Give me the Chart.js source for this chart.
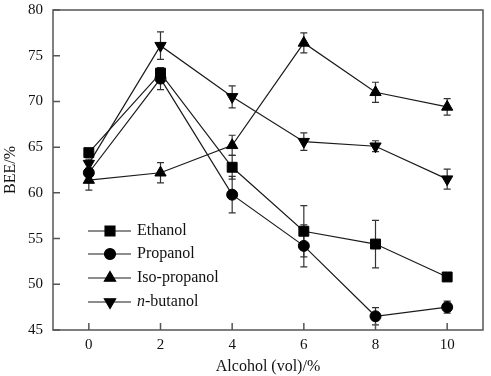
<!DOCTYPE html>
<html>
<head>
<meta charset="utf-8">
<script src="https://cdn.jsdelivr.net/npm/chart.js@4/dist/chart.umd.min.js"></script>
<style>
  html, body { margin: 0; padding: 0; background: #fff; }
  #wrap { width: 491px; height: 376px; }
</style>
</head>
<body>
<div id="wrap"><canvas id="bee-chart"></canvas></div>
<script>
// Values
const alcoholVol = [0, 2, 4, 6, 8, 10];
const xTicks = [0, 2, 4, 6, 8, 10];
const yTicks = [45, 50, 55, 60, 65, 70, 75, 80];

const ethanol = [64.4, 73.1, 62.8, 55.8, 54.4, 50.8];
const ethanolErr = [0.3, 0.5, 1.3, 2.8, 2.6, 0.3];
const propanol = [62.2, 72.5, 59.8, 54.2, 46.5, 47.5];
const propanolErr = [0.4, 1.2, 2.0, 2.3, 0.95, 0.65];
const isoPropanol = [61.4, 62.2, 65.2, 76.4, 71.0, 69.4];
const isoPropanolErr = [1.1, 1.1, 1.1, 1.1, 1.1, 0.9];
const nButanol = [63.2, 76.1, 70.5, 65.6, 65.1, 61.5];
const nButanolErr = [0.5, 1.5, 1.2, 0.95, 0.6, 1.1];

const INK = '#1a1a1a';
const SERIF = "'Liberation Serif', 'DejaVu Serif', serif";

const toPoints = (ys) => alcoholVol.map((x, i) => ({ x, y: ys[i] }));

function makeSeries(label, ys, err, style, radius, rotation) {
  return {
    label,
    data: toPoints(ys),
    errors: err,
    borderColor: INK,
    borderWidth: 1.2,
    backgroundColor: INK,
    pointStyle: style,
    pointRadius: radius,
    pointRotation: rotation || 0,
    pointBackgroundColor: '#000',
    pointBorderColor: '#000',
    pointBorderWidth: 1,
    tension: 0,
    fill: false,
  };
}

// Error bars: vertical whiskers with small caps, drawn under the markers
const errorBars = {
  id: 'errorBars',
  beforeDatasetsDraw(chart) {
    const { ctx, scales: { x, y } } = chart;
    ctx.save();
    ctx.strokeStyle = '#333';
    ctx.lineWidth = 1.2;
    chart.data.datasets.forEach(ds => {
      ds.data.forEach((p, i) => {
        const e = ds.errors[i];
        if (!e) return;
        const px = x.getPixelForValue(p.x);
        const top = y.getPixelForValue(p.y + e);
        const bot = y.getPixelForValue(p.y - e);
        ctx.beginPath();
        ctx.moveTo(px, top); ctx.lineTo(px, bot);
        ctx.moveTo(px - 3.5, top); ctx.lineTo(px + 3.5, top);
        ctx.moveTo(px - 3.5, bot); ctx.lineTo(px + 3.5, bot);
        ctx.stroke();
      });
    });
    ctx.restore();
  }
};

// Box frame and inward tick marks
const frame = {
  id: 'frame',
  afterDraw(chart) {
    const { ctx, chartArea: a, scales: { x, y } } = chart;
    ctx.save();
    ctx.strokeStyle = '#555';
    ctx.lineWidth = 1.5;
    ctx.strokeRect(a.left, a.top, a.right - a.left, a.bottom - a.top);
    ctx.beginPath();
    xTicks.forEach(v => {
      const px = x.getPixelForValue(v);
      ctx.moveTo(px, a.bottom); ctx.lineTo(px, a.bottom - 7);
    });
    yTicks.forEach(v => {
      const py = y.getPixelForValue(v);
      ctx.moveTo(a.left, py); ctx.lineTo(a.left + 7, py);
    });
    ctx.stroke();
    ctx.restore();
  }
};

// Legend inside the plot, lower left, line + marker + label
const innerLegend = {
  id: 'innerLegend',
  afterDraw(chart) {
    const { ctx, chartArea: a } = chart;
    const x0 = a.left + 35, x1 = a.left + 78, mx = a.left + 57, tx = a.left + 84;
    const rows = [221, 244, 268, 292];
    ctx.save();
    ctx.font = '16px ' + SERIF;
    ctx.textBaseline = 'middle';
    ctx.fillStyle = '#111';
    chart.data.datasets.forEach((ds, i) => {
      const ry = a.top + rows[i];
      ctx.strokeStyle = INK;
      ctx.lineWidth = 1.2;
      ctx.beginPath();
      ctx.moveTo(x0, ry); ctx.lineTo(x1, ry);
      ctx.stroke();
      ctx.fillStyle = '#000';
      ctx.strokeStyle = '#000';
      Chart.helpers.drawPoint(ctx, {
        pointStyle: ds.pointStyle,
        radius: ds.pointRadius,
        rotation: ds.pointRotation,
        borderWidth: 1,
      }, mx, ry);
      ctx.fillStyle = '#111';
      if (ds.label === 'n-butanol') {
        ctx.font = 'italic 16px ' + SERIF;
        ctx.fillText('n', tx, ry);
        const w = ctx.measureText('n').width;
        ctx.font = '16px ' + SERIF;
        ctx.fillText('-butanol', tx + w, ry);
      } else {
        ctx.fillText(ds.label, tx, ry);
      }
    });
    ctx.restore();
  }
};

new Chart(document.getElementById('bee-chart'), {
  type: 'line',
  data: {
    datasets: [
      makeSeries('Ethanol', ethanol, ethanolErr, 'rect', 7),
      makeSeries('Propanol', propanol, propanolErr, 'circle', 5.5),
      makeSeries('Iso-propanol', isoPropanol, isoPropanolErr, 'triangle', 6.5),
      makeSeries('n-butanol', nButanol, nButanolErr, 'triangle', 6.5, 180),
    ]
  },
  options: {
    responsive: true,
    maintainAspectRatio: false,
    animation: false,
    layout: { padding: { top: 10, right: 6, left: 0, bottom: 0 } },
    plugins: {
      legend: { display: false },
      tooltip: { enabled: false },
    },
    scales: {
      x: {
        type: 'linear',
        min: -1,
        max: 11,
        afterBuildTicks: (s) => { s.ticks = xTicks.map(v => ({ value: v })); },
        afterFit: (s) => { s.height = 46; s.paddingLeft = 0; s.paddingRight = 0; },
        grid: { display: false, drawTicks: false },
        border: { display: false },
        ticks: { padding: 6, color: '#111', font: { family: SERIF, size: 15 } },
        title: {
          display: true,
          text: 'Alcohol (vol)/%',
          color: '#111',
          font: { family: SERIF, size: 16 },
          padding: { top: 0, bottom: 0 },
        },
      },
      y: {
        type: 'linear',
        min: 45,
        max: 80,
        afterBuildTicks: (s) => { s.ticks = yTicks.map(v => ({ value: v })); },
        afterFit: (s) => { s.width = 53; s.paddingTop = 0; s.paddingBottom = 0; },
        grid: { display: false, drawTicks: false },
        border: { display: false },
        ticks: { padding: 10, color: '#111', font: { family: SERIF, size: 15 } },
        title: {
          display: true,
          text: 'BEE/%',
          color: '#111',
          font: { family: SERIF, size: 16 },
          padding: { top: 1, bottom: 0 },
        },
      },
    },
  },
  plugins: [errorBars, frame, innerLegend],
});
</script>
</body>
</html>
